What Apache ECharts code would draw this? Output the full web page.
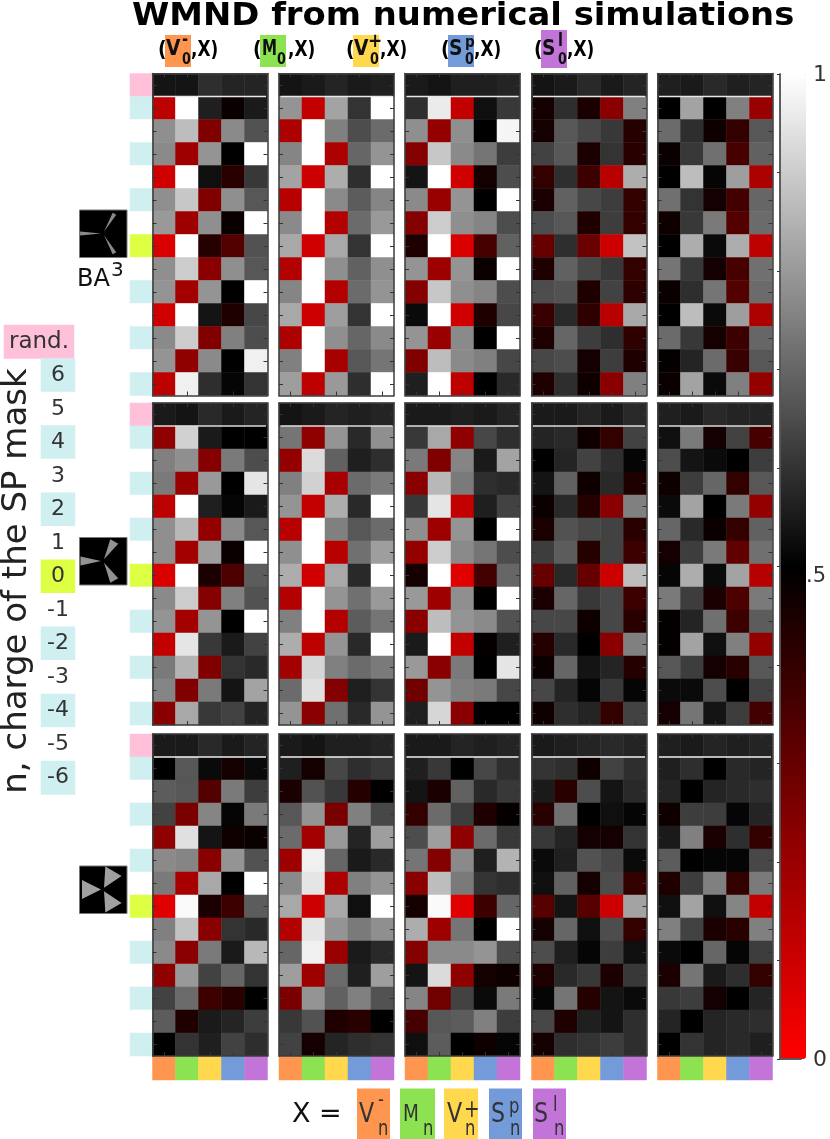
<!DOCTYPE html>
<html>
<head>
<meta charset="UTF-8">
<title>WMND from numerical simulations</title>
<script src="https://cdn.jsdelivr.net/npm/echarts@6/dist/echarts.min.js"></script>
<style>
  html, body { margin: 0; padding: 0; background: #fff; }
  #main { width: 830px; height: 1139px; }
</style>
</head>
<body>
<div id="main"></div>
<script>
var FONT = '"DejaVu Sans"';

// rows: rand, 6 .. -6 / cols: V-, M, V+, Sp, Sl
var rowLabels = ['rand.', '6', '5', '4', '3', '2', '1', '0', '-1', '-2', '-3', '-4', '-5', '-6'];
var colKeys = ['V-', 'M', 'V+', 'Sp', 'Sl'];
var cbarLabels = {'0': '0', '0.5': '.5', '1': '1'};

var ba3Vm = [
  [.54,.54,.59,.57,.57],[.13,1,.56,.48,.55],[.78,.87,.25,.77,.66],[.77,.19,.79,.50,1],[.09,1,.53,.42,.61],
  [.78,.89,.25,.78,.67],[.80,.19,.78,.48,1],[.07,1,.43,.34,.66],[.78,.90,.23,.78,.67],[.79,.18,.79,.50,1],
  [.09,1,.54,.44,.64],[.77,.90,.25,.75,.65],[.79,.22,.77,.50,.97],[.13,.97,.59,.51,.60]];
var ba3M = [
  [.54,.55,.57,.55,.56],[.79,.12,.82,.60,1],[.16,1,.75,.65,.71],[.76,1,.16,.70,.79],[.82,.10,.84,.59,1],
  [.14,1,.77,.68,.76],[.77,1,.15,.71,.80],[.83,.09,.83,.60,1],[.15,1,.78,.69,.78],[.76,1,.15,.71,.79],
  [.83,.10,.81,.60,1],[.16,1,.78,.70,.77],[.75,1,.17,.67,.73],[.81,.13,.80,.59,1]];
var ba3Vp = [
  [.55,.54,.56,.56,.57],[.59,.96,.12,.53,.61],[.78,.21,.78,.50,.98],[.24,.89,.77,.73,.62],[.54,1,.09,.46,.65],
  [.77,.20,.79,.50,1],[.24,.90,.78,.76,.65],[.44,1,.07,.36,.69],[.79,.19,.79,.48,1],[.24,.89,.78,.76,.65],
  [.52,1,.09,.44,.64],[.79,.20,.77,.50,1],[.25,.87,.77,.75,.64],[.56,1,.13,.50,.58]];
var ba3Sp = [
  [.54,.55,.58,.55,.57],[.46,.59,.45,.23,.75],[.46,.67,.64,.61,.43],[.63,.67,.45,.60,.42],[.40,.59,.38,.14,.84],
  [.45,.69,.64,.62,.40],[.65,.67,.44,.62,.40],[.30,.59,.29,.10,.88],[.44,.69,.64,.61,.40],[.65,.66,.44,.63,.41],
  [.39,.58,.41,.14,.83],[.44,.70,.62,.59,.41],[.64,.65,.46,.62,.44],[.44,.59,.47,.23,.75]];
var ba3Sl = [
  [.56,.55,.58,.56,.57],[.50,.82,.50,.75,.20],[.71,.59,.47,.40,.67],[.48,.61,.72,.36,.69],[.50,.87,.51,.81,.16],
  [.72,.60,.46,.37,.70],[.47,.61,.74,.34,.71],[.50,.84,.52,.84,.13],[.73,.61,.46,.36,.72],[.48,.59,.73,.34,.71],
  [.50,.87,.52,.81,.16],[.71,.61,.46,.38,.70],[.49,.57,.71,.39,.67],[.48,.82,.52,.75,.21]];

var midVm = [
  [.55,.54,.58,.55,.57],[.22,.91,.55,.50,.50],[.75,.78,.24,.74,.65],[.74,.20,.80,.50,.95],[.13,1,.56,.51,.55],
  [.78,.86,.21,.77,.67],[.78,.18,.81,.48,1],[.07,1,.45,.35,.68],[.77,.90,.24,.75,.66],[.79,.18,.79,.50,1],
  [.12,.95,.61,.55,.63],[.74,.85,.25,.60,.58],[.76,.25,.74,.54,.82],[.23,.83,.61,.63,.57]];
var midM = [
  [.54,.55,.57,.56,.57],[.73,.22,.79,.58,.78],[.21,.93,.69,.56,.59],[.75,.91,.17,.71,.74],[.79,.12,.84,.58,1],
  [.14,1,.75,.67,.71],[.78,1,.14,.72,.81],[.84,.09,.83,.58,1],[.15,1,.79,.72,.80],[.75,1,.15,.68,.73],
  [.84,.13,.79,.58,1],[.18,.92,.75,.71,.74],[.71,.94,.24,.56,.60],[.79,.23,.72,.58,.79]];
var midVp = [
  [.55,.55,.56,.55,.57],[.61,.83,.22,.64,.59],[.74,.25,.76,.55,.82],[.23,.86,.74,.59,.58],[.61,.95,.12,.56,.63],
  [.78,.19,.79,.50,1],[.21,.90,.77,.73,.65],[.46,1,.06,.37,.70],[.80,.19,.78,.50,1],[.23,.87,.79,.77,.66],
  [.55,1,.12,.49,.56],[.80,.23,.74,.50,.95],[.28,.79,.75,.74,.64],[.56,.92,.23,.50,.50]];
var midSp = [
  [.55,.55,.57,.55,.58],[.57,.58,.47,.40,.63],[.50,.57,.63,.59,.51],[.54,.69,.47,.58,.44],[.48,.58,.43,.23,.75],
  [.45,.66,.64,.63,.42],[.62,.68,.43,.63,.38],[.30,.58,.30,.10,.87],[.45,.70,.61,.64,.38],[.64,.64,.47,.64,.42],
  [.43,.58,.50,.23,.75],[.48,.70,.54,.57,.43],[.64,.57,.51,.61,.51],[.47,.59,.57,.40,.63]];
var midSl = [
  [.56,.55,.58,.57,.57],[.53,.74,.46,.63,.36],[.65,.54,.52,.50,.62],[.47,.62,.70,.40,.67],[.52,.82,.50,.74,.21],
  [.70,.58,.48,.40,.69],[.46,.62,.74,.31,.72],[.51,.84,.52,.82,.14],[.74,.62,.45,.35,.74],[.49,.57,.72,.38,.68],
  [.49,.82,.53,.75,.21],[.67,.62,.46,.42,.67],[.52,.52,.65,.50,.63],[.46,.73,.54,.62,.37]];

var wideVm = [
  [.55,.55,.58,.55,.57],[.50,.67,.52,.46,.52],[.68,.67,.34,.74,.62],[.63,.26,.76,.51,.74],[.22,.94,.54,.47,.48],
  [.77,.76,.23,.79,.66],[.74,.17,.83,.50,1],[.06,.99,.45,.38,.68],[.75,.88,.23,.60,.58],[.77,.23,.74,.55,.86],
  [.22,.80,.63,.70,.60],[.63,.71,.38,.42,.50],[.68,.44,.55,.57,.62],[.50,.60,.56,.63,.59]];
var wideM = [
  [.55,.54,.56,.56,.57],[.56,.46,.64,.59,.61],[.45,.66,.61,.43,.50],[.67,.79,.26,.75,.64],[.71,.18,.80,.57,.81],
  [.19,.97,.70,.55,.58],[.77,.95,.16,.75,.79],[.83,.10,.83,.53,1],[.15,.95,.79,.74,.78],[.70,.97,.20,.55,.58],
  [.81,.19,.71,.56,.81],[.26,.79,.69,.75,.66],[.61,.66,.44,.42,.50],[.63,.46,.57,.59,.60]];
var wideVp = [
  [.55,.55,.57,.56,.57],[.56,.61,.50,.64,.59],[.54,.45,.69,.58,.61],[.40,.71,.62,.44,.49],[.65,.81,.22,.71,.61],
  [.73,.24,.77,.56,.85],[.23,.87,.74,.60,.59],[.46,.99,.06,.38,.70],[.84,.19,.73,.50,1],[.24,.77,.77,.79,.65],
  [.54,.93,.22,.46,.47],[.76,.28,.63,.52,.74],[.36,.67,.68,.75,.62],[.53,.68,.50,.47,.51]];
var wideSp = [
  [.55,.56,.57,.58,.57],[.60,.59,.47,.63,.59],[.55,.42,.65,.54,.58],[.42,.72,.50,.53,.51],[.61,.57,.46,.46,.60],
  [.52,.56,.66,.64,.52],[.53,.69,.46,.65,.40],[.33,.54,.33,.10,.82],[.46,.70,.53,.65,.40],[.65,.56,.51,.62,.53],
  [.44,.58,.61,.45,.61],[.51,.73,.43,.54,.52],[.64,.44,.56,.54,.59],[.46,.59,.60,.62,.59]];
var wideSl = [
  [.56,.55,.57,.56,.57],[.56,.59,.50,.58,.57],[.57,.50,.57,.58,.59],[.47,.62,.62,.51,.57],[.55,.75,.45,.59,.40],
  [.68,.50,.51,.51,.64],[.44,.62,.75,.40,.74],[.53,.82,.53,.76,.12],[.75,.63,.45,.42,.75],[.52,.50,.70,.51,.62],
  [.45,.73,.55,.59,.40],[.61,.62,.46,.50,.57],[.57,.50,.57,.58,.59],[.50,.60,.57,.58,.56]];

var panels = [
  [ba3Vm, ba3M, ba3Vp, ba3Sp, ba3Sl],
  [midVm, midM, midVp, midSp, midSl],
  [wideVm, wideM, wideVp, wideSp, wideSl]
];

// strip colours
var xColors = ['#ff964f', '#8ce250', '#ffd84d', '#739bda', '#c374d9'];
var PINK = '#ffc0da', CYAN = '#d0eff1', WHITE = '#ffffff', LIME = '#ddff44';
var stripColors = xColors.concat([PINK, CYAN, WHITE, LIME]);
var rowStrip = [5, 6, 7, 6, 7, 6, 7, 8, 7, 6, 7, 6, 7, 6];

// layout
var panelX = [152.5, 279, 405, 531.5, 657.5];
var panelY = [73.5, 403, 734];
var panelW = 115, panelH = 322;
var lineColor = ['#e8e8e8', '#dddddd', '#f0f0f0'];

var grids = [], xAxes = [], yAxes = [], series = [];
var valueSeries = [], stripSeries = [];

function addGrid(left, top, w, h, nx, ny, axisOn) {
  var g = grids.length;
  grids.push({left: left, top: top, width: w, height: h, containLabel: false});
  var xs = [], ys = [], i;
  for (i = 0; i < nx; i++) xs.push(i);
  for (i = 0; i < ny; i++) ys.push(i);
  var firstX = xAxes.length, firstY = yAxes.length;
  var line = {show: axisOn, lineStyle: {color: '#3c3c3c', width: 1.5}};
  var tick = {show: axisOn, inside: true, alignWithLabel: true, length: 4, lineStyle: {color: '#333', width: 1}};
  ['bottom', 'top'].forEach(function (p) {
    xAxes.push({type: 'category', gridIndex: g, position: p, data: xs, z: 10, axisLine: line, axisTick: tick,
      axisLabel: {show: false}, splitLine: {show: false}});
  });
  ['left', 'right'].forEach(function (p) {
    yAxes.push({type: 'category', gridIndex: g, position: p, data: ys, inverse: true, z: 10, axisLine: line, axisTick: tick,
      axisLabel: {show: false}, splitLine: {show: false}});
  });
  return {xAxisIndex: firstX, yAxisIndex: firstY};
}

function addHeat(axes, data, label, useStrip) {
  var s = {type: 'heatmap', xAxisIndex: axes.xAxisIndex, yAxisIndex: axes.yAxisIndex, data: data,
    emphasis: {disabled: true}, itemStyle: {borderWidth: 0}, progressive: 0};
  if (label) s.label = label;
  (useStrip ? stripSeries : valueSeries).push(series.length);
  series.push(s);
}

panels.forEach(function (rowPanels, r) {
  // row colour strip beside each block
  var a = addGrid(130, panelY[r], 22.5, panelH, 1, rowStrip.length, false);
  addHeat(a, rowStrip.map(function (c, i) { return [0, i, c]; }), null, true);
  rowPanels.forEach(function (vals, c) {
    var ax = addGrid(panelX[c], panelY[r], panelW, panelH, colKeys.length, rowLabels.length, true);
    var d = [];
    vals.forEach(function (row, i) { row.forEach(function (v, j) { d.push([j, i, v]); }); });
    addHeat(ax, d, null, false);
  });
});

// colour strip under the bottom panels
panelX.forEach(function (px) {
  var a = addGrid(px, 1056.5, panelW, 23.5, colKeys.length, 1, false);
  addHeat(a, colKeys.map(function (k, i) { return [i, 0, i]; }), null, true);
});

// key on the left: rand. box and n labels
var randAxes = addGrid(4, 325, 70, 33.5, 1, 1, false);
addHeat(randAxes, [[0, 0, 5]], {show: true, formatter: rowLabels[0], fontSize: 23, fontFamily: FONT, color: '#333'}, true);
var keyAxes = addGrid(41, 358.5, 34, 436, 1, 13, false);
addHeat(keyAxes, rowStrip.slice(1).map(function (c, i) { return [0, i, c]; }), {
  show: true, fontSize: 22, fontFamily: FONT, color: '#333',
  formatter: function (p) { return rowLabels[p.data[1] + 1]; }
}, true);

// colour bar axis frame
var cbarGrid = grids.length;
grids.push({left: 780, top: 74, width: 26, height: 985});
var cbarLine = {show: true, lineStyle: {color: '#555', width: 1.5}};
xAxes.push({type: 'value', gridIndex: cbarGrid, position: 'bottom', min: 0, max: 1, z: 10, axisLine: cbarLine,
  axisTick: {show: false}, axisLabel: {show: false}, splitLine: {show: false}});
xAxes.push({type: 'value', gridIndex: cbarGrid, position: 'top', min: 0, max: 1, z: 10, axisLine: cbarLine,
  axisTick: {show: false}, axisLabel: {show: false}, splitLine: {show: false}});
yAxes.push({type: 'value', gridIndex: cbarGrid, position: 'left', min: 0, max: 1, z: 10, axisLine: cbarLine,
  axisTick: {show: false}, axisLabel: {show: false}, splitLine: {show: false}});
yAxes.push({type: 'value', gridIndex: cbarGrid, position: 'right', min: 0, max: 1, interval: 0.1, z: 10, axisLine: cbarLine,
  axisTick: {show: true, inside: true, length: 3, lineStyle: {color: '#333'}},
  axisLabel: {show: true, margin: 5, fontFamily: FONT, fontSize: 21, color: '#333', showMinLabel: true, showMaxLabel: true,
    formatter: function (v) { var t = cbarLabels[String(+v.toFixed(1))]; return t ? '{' + (t === '.5' ? 'mid' : 'end') + '|' + t + '}' : ''; },
    rich: {
      mid: {fontFamily: FONT, fontSize: 21, color: '#333', padding: [20, 0, 0, 0]},
      end: {fontFamily: FONT, fontSize: 22, color: '#333', padding: [2, 0, 0, 7]}
    }},
  splitLine: {show: false}});

// graphic helpers
var graphics = [];
function txt(x, y, s, size, bold, color, sx) {
  graphics.push({type: 'text', x: x, y: y, scaleX: sx || 1, z: 20, style: {x: 0, y: 0, text: s, fontFamily: FONT,
    fontSize: size, fontWeight: bold ? 'bold' : 'normal', fill: color || '#222', textVerticalAlign: 'middle'}});
}
function box(x, y, w, h, color) {
  graphics.push({type: 'rect', shape: {x: x, y: y, width: w, height: h}, style: {fill: color}, z: 19});
}

// title
txt(132, 17, 'WMND from numerical simulations', 32, true, '#000', 1.057);

// column headers (V-0,X) ...
var headNames = ['V', 'M', 'V', 'S', 'S'];
var headSups = ['-', '', '+', 'p', 'l'];
var headBoxX = [165, 260, 353, 448, 541];
var headBoxTop = [35, 35, 35, 35, 30];
var headSupX = [17, 0, 15, 17, 17];
var headSupY = [41, 0, 42, 43, 42];
var headSupSize = [17, 0, 20, 16, 17];
var headCommaX = [26, 28, 27, 26, 26];
headNames.forEach(function (n, i) {
  var bx = headBoxX[i];
  box(bx, headBoxTop[i], 26, 67 - headBoxTop[i] + (i === 4 ? 1 : 0), xColors[i]);
  txt(bx - 7, 50, '(', 22, true, '#000', 0.85);
  txt(bx + (n === 'M' ? 2 : 1), 49.5, n, n === 'M' ? 21 : 22, true, '#111', n === 'M' ? 0.72 : 0.85);
  if (headSups[i]) txt(bx + headSupX[i], headSupY[i], headSups[i], headSupSize[i], true, '#111', 0.85);
  txt(bx + 17, 60.5, '0', 15, true, '#111', 0.85);
  txt(bx + headCommaX[i], 50, ',X)', 22, true, '#000', 0.77);
});

// bottom legend
var legendBoxX = [357, 400, 444, 489, 533];
var legendW = [33, 35, 34, 33, 33];
var legendNames = ['V', 'M', 'V', 'S', 'S'];
var legendSups = ['-', '', '+', 'p', 'l'];
var legendNameDx = [2, 3, 3, 2, 1];
var legendSubDx = [21, 23, 21, 21, 21];
var legendSupX = [378, 0, 464, 509, 553];
var legendSupY = [1101, 0, 1111, 1108, 1106];
txt(292, 1115, 'X =', 27, false, '#111');
legendNames.forEach(function (n, i) {
  var bx = legendBoxX[i];
  box(bx, 1088.5, legendW[i], 50.5, xColors[i]);
  txt(bx + legendNameDx[i], 1115, n, n === 'M' ? 23 : 27, false, '#333', n === 'M' ? 0.8 : 0.82);
  if (legendSups[i]) txt(legendSupX[i], legendSupY[i], legendSups[i], i === 2 ? 24 : 21, false, '#333', 0.78);
  txt(bx + legendSubDx[i], 1130, 'n', 21, false, '#333', 0.78);
});

// white rule under the rand. row of each panel
panelY.forEach(function (py, r) {
  panelX.forEach(function (px) {
    box(px + 1.5, py + panelH / rowLabels.length - 0.75, panelW - 3, 1.5, lineColor[r]);
  });
});

// y title
graphics.push({type: 'text', x: 17, y: 581, rotation: Math.PI / 2, z: 20, style: {
  x: 0, y: 0, text: 'n, charge of the SP mask', fontFamily: FONT, fontSize: 34, fill: '#222',
  textAlign: 'center', textVerticalAlign: 'middle'}});

// BA3 label
txt(77, 280, 'BA', 24, false, '#111');
txt(111, 271, '3', 20, false, '#111');

// mask thumbnails: black square with three gray blades
var maskTops = [210, 537.5, 866];
var maskSpread = [0.09, 0.2, 0.42];
var maskFill = ['#8a8a8a', '#929292', '#a0a0a0'];
var bladeAngles = [Math.PI, -Math.PI / 3, Math.PI / 3];
maskTops.forEach(function (top, m) {
  graphics.push({type: 'rect', shape: {x: 79.5, y: top, width: 47.5, height: 47.5},
    style: {fill: '#000', stroke: '#777', lineWidth: 1}, z: 19});
  var cx = 103, cy = top + 23.5, r = 23;
  bladeAngles.forEach(function (a) {
    var s = maskSpread[m];
    graphics.push({type: 'polygon', z: 20, shape: {points: [
      [cx + 2 * Math.cos(a), cy + 2 * Math.sin(a)],
      [cx + r * Math.cos(a - s), cy + r * Math.sin(a - s)],
      [cx + r * Math.cos(a + s), cy + r * Math.sin(a + s)]
    ]}, style: {fill: maskFill[m]}});
  });
});

var chart = echarts.init(document.getElementById('main'), null, {renderer: 'canvas'});
chart.setOption({
  animation: false,
  backgroundColor: '#fff',
  textStyle: {fontFamily: FONT},
  tooltip: {show: false},
  grid: grids,
  xAxis: xAxes,
  yAxis: yAxes,
  visualMap: [
    {type: 'continuous', min: 0, max: 1, seriesIndex: valueSeries, left: 780, top: 74, itemWidth: 26, itemHeight: 985,
      padding: 0, calculable: false, text: null, textGap: 0, hoverLink: false,
      inRange: {color: ['#ff0000', '#000000', '#ffffff']}},
    {type: 'piecewise', show: false, seriesIndex: stripSeries,
      pieces: stripColors.map(function (c, i) { return {value: i, color: c}; })}
  ],
  series: series,
  graphic: {elements: graphics}
});
</script>
</body>
</html>
